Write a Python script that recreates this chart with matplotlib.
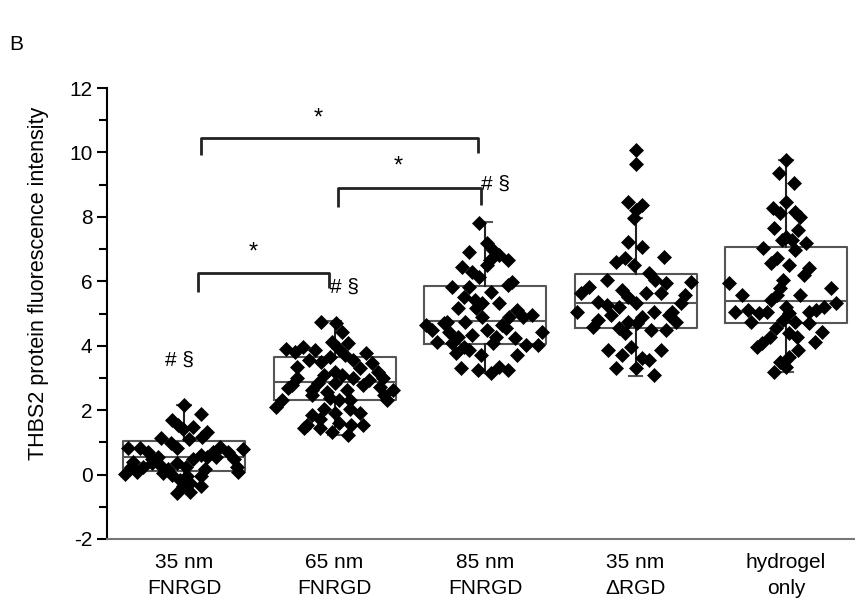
import numpy as np
import matplotlib
matplotlib.use("Agg")
from matplotlib import pyplot as plt

plt.rcParams['font.family'] = ['Liberation Sans', 'DejaVu Sans']
plt.rcParams['axes.unicode_minus'] = False

groups = ['35 nm\nFNRGD', '65 nm\nFNRGD', '85 nm\nFNRGD', '35 nm\n\u0394RGD', 'hydrogel\nonly']

# box stats: q1, median, q3, whisker low, whisker high
q1 = [0.12, 2.30, 4.06, 4.56, 4.71]
med = [0.53, 2.88, 4.78, 5.33, 5.40]
q3 = [1.05, 3.66, 5.86, 6.23, 7.07]
whislo = [-0.55, 1.24, 3.16, 3.07, 3.19]
whishi = [2.17, 4.78, 7.85, 7.97, 9.77]

# individual cells: (x offset from group centre, value)
g1_dx = [0.00, 0.11, -0.08, -0.04, -0.01, 0.06, 0.15, 0.12, -0.15, -0.09, -0.05, 0.03, -0.37, -0.29,
         -0.24, 0.39, 0.24, 0.19, 0.29, 0.11, 0.15, 0.06, -0.21, -0.34, 0.33, -0.16, -0.05, 0.01,
         -0.11, 0.35, -0.35, -0.39, -0.31, -0.08, 0.02, 0.14, 0.11, -0.14, -0.03, 0.04, 0.11, -0.01,
         -0.05, 0.04, 0.36, 0.21, -0.27, -0.17, -0.21]
g1_y = [2.17, 1.89, 1.70, 1.55, 1.40, 1.49, 1.33, 1.18, 1.15, 0.99, 0.84, 1.09, 0.84, 0.81,
        0.71, 0.78, 0.87, 0.71, 0.71, 0.62, 0.53, 0.47, 0.47, 0.40, 0.47, 0.31, 0.37, 0.22,
        0.16, 0.22, 0.25, 0.03, 0.09, 0.00, -0.05, 0.16, -0.05, 0.06, -0.16, -0.25, -0.37, -0.37,
        -0.56, -0.53, 0.09, 0.56, 0.25, 0.56, 0.37]

g2_dx = [-0.09, 0.01, 0.05, -0.02, 0.09, 0.02, -0.32, -0.21, -0.13, -0.26, 0.21, 0.07, -0.03, -0.17,
         -0.09, 0.12, 0.25, -0.25, 0.17, 0.29, 0.00, -0.07, 0.05, -0.25, 0.12, 0.23, 0.32, -0.28,
         -0.11, 0.00, 0.19, 0.30, 0.39, -0.31, -0.15, -0.05, 0.08, 0.33, -0.15, -0.03, 0.03, 0.10,
         0.35, -0.35, -0.39, -0.07, 0.00, 0.10, 0.17, -0.15, -0.10, 0.03, -0.18, 0.19, -0.20, -0.10,
         -0.02, 0.09, 0.11]
g2_y = [4.74, 4.71, 4.43, 4.12, 4.09, 3.94, 3.91, 3.97, 3.88, 3.81, 3.78, 3.72, 3.66, 3.57,
        3.50, 3.57, 3.47, 3.35, 3.32, 3.19, 3.19, 3.10, 3.10, 3.00, 3.00, 2.95, 3.00, 2.79,
        2.85, 2.85, 2.79, 2.73, 2.64, 2.70, 2.64, 2.57, 2.64, 2.48, 2.48, 2.39, 2.33, 2.33,
        2.33, 2.33, 2.11, 2.02, 1.92, 2.02, 1.92, 1.86, 1.71, 1.61, 1.55, 1.55, 1.46, 1.46,
        1.33, 1.24, 1.55]

g3_dx = [-0.04, 0.01, -0.11, 0.05, 0.09, 0.15, 0.03, 0.01, -0.15, -0.09, -0.04, -0.22, -0.11, 0.15,
         0.18, 0.04, -0.14, -0.07, -0.02, 0.09, -0.18, -0.06, 0.21, 0.31, 0.16, -0.02, -0.39, -0.27,
         -0.13, 0.11, 0.25, -0.35, -0.24, 0.01, 0.14, 0.38, -0.18, -0.09, 0.07, 0.20, -0.32, -0.22,
         -0.14, 0.05, 0.27, 0.35, -0.19, -0.11, -0.03, 0.21, -0.16, -0.05, 0.04, 0.09, 0.15, -0.25]
g3_y = [7.81, 7.19, 6.91, 6.98, 6.82, 6.67, 6.67, 6.51, 6.45, 6.29, 6.14, 5.83, 5.83, 5.89,
        5.98, 5.67, 5.52, 5.43, 5.33, 5.33, 5.18, 5.18, 5.12, 4.96, 4.90, 4.90, 4.65, 4.71,
        4.74, 4.65, 4.90, 4.50, 4.43, 4.50, 4.56, 4.43, 4.28, 4.34, 4.28, 4.25, 4.12, 4.09,
        3.97, 4.09, 4.03, 4.03, 3.78, 3.88, 3.72, 3.72, 3.32, 3.26, 3.16, 3.35, 3.26, 4.74]

g4_dx = [0.00, 0.00, -0.05, 0.04, 0.00, -0.01, -0.05, 0.04, -0.13, -0.07, 0.19, -0.01, 0.09, 0.13,
         -0.19, 0.20, -0.31, -0.09, 0.07, -0.36, 0.17, -0.05, -0.25, 0.00, -0.19, -0.11, -0.39, 0.12,
         -0.16, 0.04, 0.22, -0.25, -0.05, 0.01, -0.28, -0.11, 0.10, 0.20, -0.07, -0.03, -0.18, 0.17,
         -0.09, 0.04, 0.09, -0.13, 0.00, 0.12, 0.37, 0.33, 0.30, 0.24, 0.27]
g4_y = [10.08, 9.64, 8.47, 8.37, 8.22, 7.97, 7.22, 7.07, 6.60, 6.73, 6.76, 6.51, 6.26, 6.05,
        6.05, 5.95, 5.83, 5.74, 5.64, 5.64, 5.64, 5.52, 5.36, 5.33, 5.27, 5.21, 5.05, 5.05,
        4.96, 4.90, 4.96, 4.81, 4.74, 4.71, 4.59, 4.56, 4.50, 4.50, 4.40, 3.97, 3.88, 3.88,
        3.72, 3.63, 3.57, 3.32, 3.32, 3.10, 5.98, 5.58, 5.33, 5.05, 4.74]

g5_dx = [0.00, -0.05, 0.05, 0.00, -0.09, -0.04, 0.06, 0.09, -0.08, 0.08, 0.00, -0.03, 0.04, 0.13,
         -0.15, 0.06, -0.06, -0.10, 0.02, 0.15, 0.12, -0.38, -0.02, -0.04, -0.06, 0.30, -0.29, 0.09,
         -0.10, 0.33, 0.00, 0.25, -0.34, -0.25, -0.18, -0.13, 0.02, 0.15, 0.20, -0.23, -0.02, 0.06,
         0.15, -0.07, 0.02, 0.07, 0.24, -0.11, 0.19, -0.16, -0.19, 0.08, 0.02, -0.04, 0.00, -0.08]
g5_y = [9.77, 9.36, 9.05, 8.47, 8.28, 8.12, 8.16, 8.00, 7.66, 7.60, 7.38, 7.29, 7.29, 7.19,
        7.04, 6.98, 6.73, 6.57, 6.51, 6.42, 6.20, 5.95, 6.05, 5.80, 5.58, 5.80, 5.58, 5.58,
        5.43, 5.33, 5.21, 5.21, 5.05, 5.12, 5.02, 5.05, 5.02, 5.05, 5.12, 4.74, 4.81, 4.74,
        4.71, 4.56, 4.40, 4.28, 4.43, 4.28, 4.12, 4.09, 3.97, 3.88, 3.66, 3.50, 3.35, 3.19]

all_dx = [g1_dx, g2_dx, g3_dx, g4_dx, g5_dx]
all_y = [g1_y, g2_y, g3_y, g4_y, g5_y]

fig = plt.figure(figsize=(8.55, 6.12), dpi=100)
ax = fig.add_axes([107 / 855, 73 / 612, 1 - 107 / 855, (539 - 88) / 612])

pos = np.arange(1, 6)
stats = []
for i in range(5):
    stats.append(dict(q1=q1[i], med=med[i], q3=q3[i], whislo=whislo[i], whishi=whishi[i]))
ax.bxp(stats, positions=pos, widths=0.81, showfliers=False, capwidths=0.09,
       boxprops=dict(color='#555555', linewidth=1.5),
       medianprops=dict(color='#555555', linewidth=1.5),
       whiskerprops=dict(color='#222222', linewidth=1.5),
       capprops=dict(color='#555555', linewidth=1.5))

for i in range(5):
    ax.plot(pos[i] + np.array(all_dx[i]), all_y[i], 'D', color='black', ms=6.8,
            mec='black', mew=0.5, ls='none', zorder=5)

# significance brackets
def bracket(x0, x1, y, y0, y1):
    ax.plot([x0, x0, x1, x1], [y0, y, y, y1], color='#222222', lw=2, solid_capstyle='butt')

bracket(1.11, 2.95, 10.45, 9.92, 9.98)
ax.text(1.89, 11.05, '*', ha='center', va='center', fontsize=17)
bracket(2.02, 2.97, 8.9, 8.31, 8.36)
ax.text(2.42, 9.55, '*', ha='center', va='center', fontsize=17)
bracket(1.09, 1.96, 6.26, 5.67, 5.8)
ax.text(1.46, 6.9, '*', ha='center', va='center', fontsize=17)

ax.text(1.97, 5.82, '# \u00a7', ha='left', va='center', fontsize=15)
ax.text(2.97, 9.0, '# \u00a7', ha='left', va='center', fontsize=15)
ax.text(0.97, 3.55, '# \u00a7', ha='center', va='center', fontsize=15)

ax.set_xlim(0.488, 5.458)
ax.set_ylim(-2, 12)
ax.set_yticks(np.arange(-2, 13, 2))
ax.set_yticks(np.arange(-1, 12, 2), minor=True)
ax.set_xticks(pos)
ax.set_xticklabels(groups, fontsize=15, linespacing=1.45)
ax.tick_params(axis='y', which='major', length=7, width=1.5, labelsize=15, direction='out')
ax.tick_params(axis='y', which='minor', length=6, width=1.5, direction='out')
ax.tick_params(axis='x', length=0, pad=10)
ax.spines['top'].set_visible(False)
ax.spines['right'].set_visible(False)
ax.spines['left'].set_linewidth(1.5)
ax.spines['bottom'].set_linewidth(1.5)
ax.spines['bottom'].set_color('#777777')
ax.set_ylabel('THBS2 protein fluorescence intensity', fontsize=15.5)
ax.yaxis.set_label_coords(-0.078, 0.567)

fig.text(16 / 855, 1 - 45 / 612, 'B', fontsize=15, ha='center', va='center')

fig.savefig('out.png', dpi=100)
